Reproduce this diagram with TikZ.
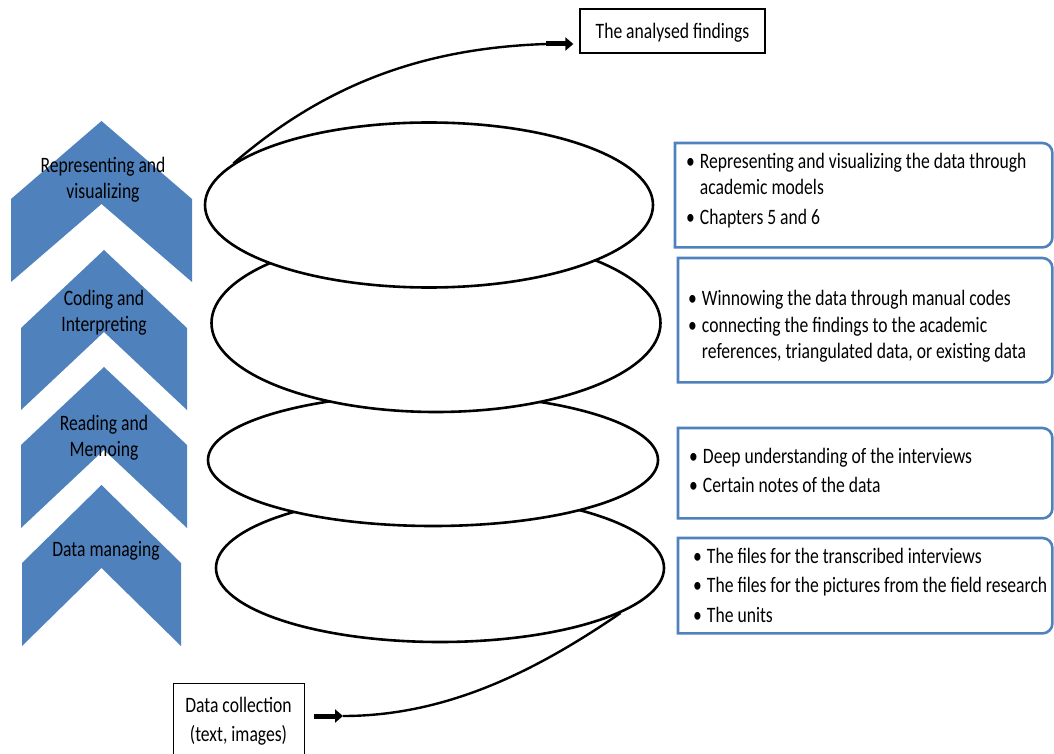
\documentclass[tikz,border=0pt]{standalone}
\usepackage{fontspec}
\setmainfont{Carlito}[FakeStretch=0.8]
\usetikzlibrary{shapes.geometric, arrows.meta}

\definecolor{stageblue}{RGB}{79,129,189}

\tikzset{
  ring/.style={ellipse, draw=black, line width=2.6pt, fill=white, inner sep=0pt},
  flow/.style={draw=black, line width=2.4pt},
  fatarrow/.style={draw=black, line width=5pt, -{Triangle[length=8pt,width=13pt]}},
  notebox/.style={draw=none, inner sep=0pt, anchor=north west},
  boxline/.style={draw=stageblue, line width=2.6pt},
  stagetext/.style={anchor=base, inner sep=0pt, align=center},
  notetext/.style={anchor=base west, inner sep=0pt},
  plainbox/.style={draw=black, line width=1.3pt, inner sep=0pt},
}

% chevron: left x, right x, apex y, shoulder y, bottom y
\newcommand\stagechevron[5]{%
  \fill[stageblue] (#1,#4) -- ({(#1+#2)/2},#3) -- (#2,#4) -- (#2,#5)
    -- ({(#1+#2)/2},{#5-(#4-#3)}) -- (#1,#5) -- cycle;}

% frame of a note box: square corners on the left, rounded on the right
\newcommand\noteframe[1]{%
  \draw[boxline] (#1.south west) -- (#1.north west)
    -- ([xshift=-10pt]#1.north east) arc[start angle=270,end angle=360,radius=10]
    -- ([yshift=10pt]#1.south east) arc[start angle=0,end angle=90,radius=10]
    -- cycle;}

\begin{document}
\begin{tikzpicture}[x=1pt, y=-1pt, font=\fontsize{22}{26}\selectfont]
\useasboundingbox (0,0) rectangle (1054,754);
\clip (0,0) rectangle (1054,754);

% stage chevrons
\stagechevron{11}{192}{121}{199}{282}
\stagechevron{21}{187}{250}{328}{410}
\stagechevron{21}{187}{367}{445}{528}
\stagechevron{22}{181}{485}{563}{646}

\node[stagetext] (s1) at (103,173) {\begin{tabular}[t]{@{}c@{}}Representing and\\ visualizing\end{tabular}};
\node[stagetext] (s2) at (104,305) {\begin{tabular}[t]{@{}c@{}}Coding and\\ Interpreting\end{tabular}};
\node[stagetext] (s3) at (104,430) {\begin{tabular}[t]{@{}c@{}}Reading and\\ Memoing\end{tabular}};
\node[stagetext] (s4) at (106,556) {Data managing};

% stacked rings, lower ones first
\node[ring, minimum width=448pt, minimum height=148pt] (e4) at (440,568) {};
\node[ring, minimum width=450pt, minimum height=132pt] (e3) at (433,460) {};
\node[ring, minimum width=449pt, minimum height=178pt] (e2) at (436,323) {};
\node[ring, minimum width=448pt, minimum height=165pt] (e1) at (429,205) {};

% end boxes
\node[plainbox, minimum width=185pt, minimum height=44pt, text height=18.5pt, text depth=2.5pt]
  (findings) at (672.5,31) {The analysed findings};
\node[plainbox, anchor=north west, minimum width=131pt, minimum height=90pt] (dc) at (173,683) {};
\node[stagetext] (dct) at (238.5,712) {\begin{tabular}[t]{@{}c@{}}Data collection\\[3pt] (text, images)\end{tabular}};

% connector to the findings
\coordinate (tailA) at (546,44);
\draw[flow] (e1.168) .. controls (330,80) and (430,48) .. (tailA);
\path (findings.west |- tailA) ++(-6,0) coordinate (tipA);
\draw[fatarrow] (tailA) -- (tipA);

% connector from the data collection
\coordinate (tailB) at (343,716);
\path (dc.east |- tailB) ++(9,0) coordinate (startB);
\draw[fatarrow] (startB) -- (tailB);
\draw[flow] (tailB) .. controls (450,716) and (540,668) .. (e4.346);

% note boxes
\node[notebox, minimum width=377pt, minimum height=104pt] (b1) at (675,143) {};
\node[notebox, minimum width=374pt, minimum height=124pt] (b2) at (678,258) {};
\node[notebox, minimum width=374pt, minimum height=90pt]  (b3) at (678,428) {};
\node[notebox, minimum width=374pt, minimum height=95pt]  (b4) at (678,538) {};
\noteframe{b1}
\noteframe{b2}
\noteframe{b3}
\noteframe{b4}

\node[notetext] (t1) at (686,168) {\begin{tabular}[t]{@{}l@{\hspace{5pt}}l@{}}
  \textbullet & Representing and visualizing the data through\\
              & academic models\\[4pt]
  \textbullet & Chapters 5 and 6\end{tabular}};
\node[notetext] (t2) at (688,305) {\begin{tabular}[t]{@{}l@{\hspace{5pt}}l@{}}
  \textbullet & Winnowing the data through manual codes\\[1pt]
  \textbullet & connecting the findings to the academic\\
              & references, triangulated data, or existing data\end{tabular}};
\node[notetext] (t3) at (689,463) {\begin{tabular}[t]{@{}l@{\hspace{5pt}}l@{}}
  \textbullet & Deep understanding of the interviews\\[3pt]
  \textbullet & Certain notes of the data\end{tabular}};
\node[notetext] (t4) at (693,563) {\begin{tabular}[t]{@{}l@{\hspace{5pt}}l@{}}
  \textbullet & The files for the transcribed interviews\\[3pt]
  \textbullet & The files for the pictures from the field research\\[4pt]
  \textbullet & The units\end{tabular}};
\end{tikzpicture}
\end{document}
